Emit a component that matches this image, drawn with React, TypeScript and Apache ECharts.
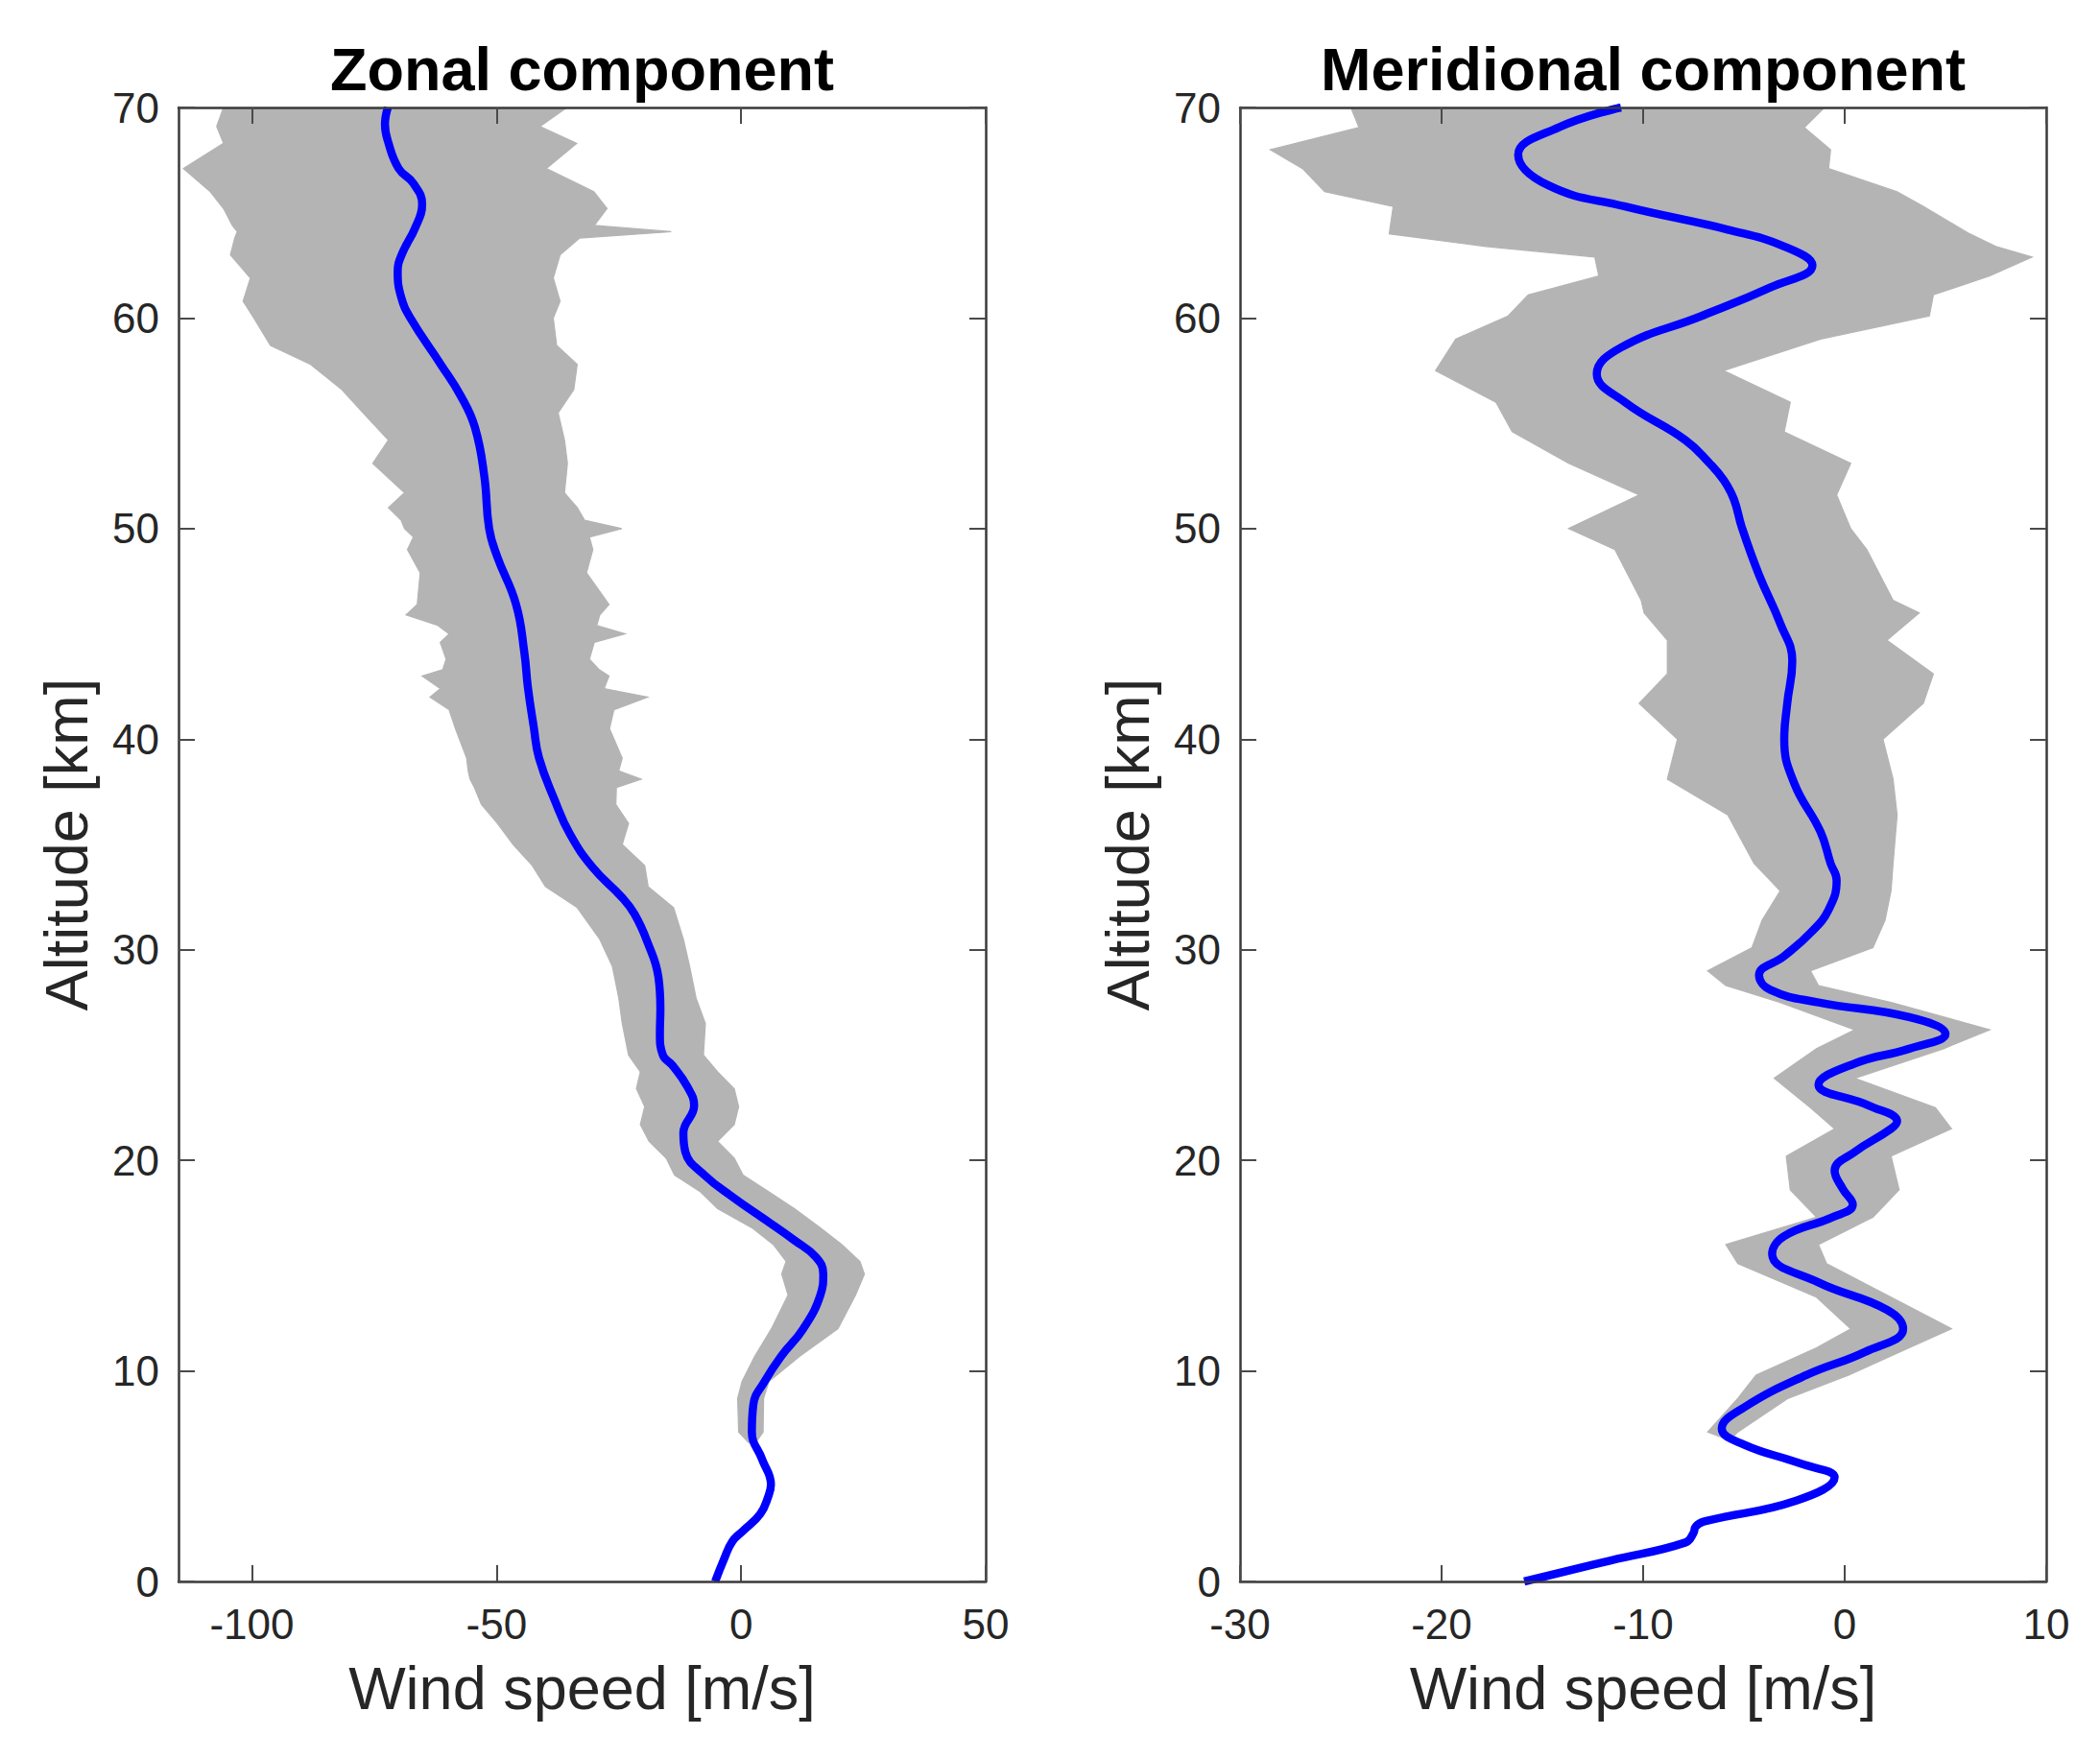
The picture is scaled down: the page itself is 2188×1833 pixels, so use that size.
import React, { useEffect, useRef } from "react";
import * as echarts from "echarts";

// ---------- Data ----------
// Zonal component: mean profile (altitude km -> wind m/s)
const zonalMeanAlt = [0, 1.0, 1.9, 2.4, 3.2, 4.0, 4.6, 5.8, 7.1, 8.4, 9.5, 10.7, 12.0, 13.6, 14.6, 15.4, 16.2, 17.2, 18.2, 19.3, 20.4, 21.3, 22.6, 23.5, 24.5, 25.0, 26.0, 27.2, 28.7, 30.4, 31.7, 32.5, 33.9, 35.5, 37.1, 39.1, 40.6, 42.5, 44.1, 46.4, 48.7, 50.0, 52.5, 54.8, 56.3, 57.8, 60.0, 61.0, 62.2, 63.0, 64.3, 65.4, 66.4, 67.1, 68.4, 69.2, 70.0];
const zonalMean = [-5.3, -3.6, -1.8, 0.4, 3.9, 5.5, 6.1, 4.3, 2.2, 2.5, 4.8, 8.2, 12.7, 16.2, 16.8, 15.3, 10.9, 4.8, -1.4, -7.5, -11.4, -11.8, -9.6, -11.0, -14.0, -16.0, -16.6, -16.5, -16.9, -19.2, -21.8, -24.4, -30.3, -35.0, -38.1, -41.3, -42.4, -43.6, -44.3, -46.0, -49.9, -51.5, -52.5, -54.4, -57.3, -61.4, -67.6, -69.5, -70.2, -69.4, -66.6, -65.2, -67.0, -70.0, -72.2, -72.8, -72.2];

// Zonal component: spread of the ensemble (min / max envelope)
const zonalBandAlt = [6.6, 7.1, 8.7, 9.5, 10.7, 12.0, 13.6, 14.6, 15.2, 16.0, 16.8, 17.7, 18.5, 19.3, 20.1, 20.9, 21.7, 22.55, 23.4, 24.2, 25.0, 26.5, 27.7, 29.2, 30.5, 32.0, 33.0, 34.0, 35.0, 36.0, 36.9, 37.7, 38.1, 38.5, 39.1, 40.5, 41.4, 42.0, 42.4, 43.0, 43.3, 43.8, 44.6, 45.0, 45.4, 45.9, 46.4, 47.9, 49.0, 49.6, 50.0, 50.4, 51.0, 51.7, 53.1, 54.2, 55.5, 56.6, 57.8, 58.7, 60.0, 60.8, 61.9, 63.0, 63.8, 64.1, 64.4, 65.2, 66.0, 67.1, 68.3, 69.1, 70.0];
const zonalBandMin = [1.5, -0.5, -0.7, 0.2, 2.8, 6.2, 9.6, 8.3, 9.2, 6.6, 2.2, -4.8, -8.3, -13.6, -15.3, -18.8, -20.6, -19.7, -21.4, -20.6, -23.0, -24.3, -25.0, -26.3, -28.9, -33.5, -40.0, -42.7, -46.6, -49.8, -53.1, -54.5, -55.4, -55.8, -56.1, -58.4, -59.7, -63.6, -61.5, -65.2, -61.0, -60.3, -61.5, -59.7, -62.0, -68.5, -66.2, -65.6, -68.2, -67.0, -68.8, -69.5, -72.1, -68.8, -75.3, -72.1, -77.3, -81.6, -88.0, -96.2, -99.6, -101.8, -100.3, -104.4, -103.5, -103.0, -104.0, -105.8, -108.5, -114.0, -105.8, -107.2, -105.8];
const zonalBandMax = [3.0, 4.5, 4.6, 5.7, 12.0, 19.8, 23.4, 25.2, 24.3, 20.6, 16.2, 10.9, 5.7, 0.4, -1.4, -4.8, -1.4, -0.5, -1.4, -4.8, -7.7, -7.3, -9.2, -10.5, -11.8, -13.8, -19.0, -19.7, -24.3, -23.0, -25.6, -25.5, -20.4, -25.0, -24.3, -26.9, -26.0, -19.1, -28.0, -27.0, -29.0, -31.0, -30.0, -23.7, -29.5, -28.9, -27.0, -31.6, -30.3, -31.0, -24.4, -32.0, -33.5, -36.1, -35.5, -36.1, -37.4, -34.2, -33.5, -37.7, -38.4, -37.0, -38.4, -37.0, -33.0, -14.3, -30.0, -27.4, -30.1, -39.8, -33.6, -41.1, -35.6];

// Meridional component: mean profile
const meridMeanAlt = [0, 1.0, 1.85, 2.3, 2.6, 2.84, 3.84, 4.94, 5.6, 6.5, 7.26, 8.26, 9.8, 10.9, 12.0, 12.9, 14.2, 15.55, 16.4, 17.3, 17.9, 18.65, 19.5, 20.4, 21.5, 21.85, 22.6, 23.6, 24.6, 25.3, 26.0, 26.8, 27.5, 28.1, 28.8, 29.7, 30.8, 31.9, 33.3, 34.1, 35.6, 37.9, 40.0, 41.7, 43.7, 45.5, 47.8, 50.05, 51.4, 52.3, 53.1, 54.2, 56.0, 57.35, 58.6, 60.1, 61.45, 62.5, 63.4, 64.2, 65.3, 66.3, 67.76, 69.05, 70.0];
const meridMean = [-15.9, -11.6, -7.9, -7.5, -7.4, -7.0, -2.4, -0.5, -2.2, -5.0, -6.1, -5.0, -1.9, 1.0, 2.9, 2.1, -1.3, -3.6, -3.0, -0.6, 0.4, -0.1, -0.5, 0.5, 2.3, 2.6, 1.2, -1.3, 0.5, 3.2, 5.0, 3.2, -1.3, -3.7, -4.25, -3.0, -1.7, -0.8, -0.4, -0.7, -1.2, -2.5, -3.0, -2.85, -2.6, -3.2, -4.25, -5.1, -5.5, -6.0, -6.7, -7.9, -10.9, -12.3, -11.1, -7.1, -3.7, -1.6, -3.0, -5.8, -10.9, -14.7, -16.2, -14.2, -11.1];

// Meridional component: spread of the ensemble
const meridBandAlt = [6.8, 7.1, 8.7, 9.8, 11.1, 12.0, 13.5, 15.1, 16.0, 17.3, 18.6, 20.2, 21.5, 22.5, 23.9, 25.3, 26.2, 27.5, 28.3, 29.0, 30.1, 31.4, 32.8, 34.1, 36.4, 38.1, 40.0, 41.7, 43.1, 44.7, 46.0, 46.6, 49.0, 50.0, 51.6, 53.1, 54.6, 56.0, 57.5, 59.0, 60.1, 61.1, 62.0, 62.9, 63.4, 64.0, 65.3, 66.0, 67.1, 68.0, 69.05, 70.0];
const meridBandMin = [-6.0, -6.8, -5.3, -4.4, -1.4, 0.3, -1.4, -5.3, -5.9, -1.4, -2.7, -2.9, -0.5, -1.7, -3.5, -1.4, 0.5, -3.2, -5.9, -6.8, -4.6, -4.1, -3.2, -4.5, -5.8, -8.8, -8.3, -10.2, -8.8, -8.8, -9.95, -10.1, -11.4, -13.7, -10.2, -13.7, -16.5, -17.3, -20.3, -19.3, -16.7, -15.7, -12.2, -12.4, -17.8, -22.6, -22.4, -25.8, -26.9, -28.5, -24.1, -24.5];
const meridBandMax = [-5.6, -5.3, -2.8, 0.2, 3.2, 5.3, 2.3, -0.9, -1.3, 1.4, 2.7, 2.3, 5.3, 4.5, 0.5, 4.9, 7.2, 2.3, -1.3, -1.7, 1.4, 2.0, 2.3, 2.4, 2.6, 2.4, 1.9, 3.9, 4.4, 2.1, 3.7, 2.4, 1.1, 0.3, -0.4, 0.3, -3.0, -2.7, -6.0, -1.2, 4.2, 4.4, 7.2, 9.3, 7.5, 6.2, 3.9, 2.6, -0.8, -0.7, -2.0, -1.0];

// Axis ticks
const zonalXTicks = [-100, -50, 0, 50];
const meridXTicks = [-30, -20, -10, 0, 10];
const altTicks = [0, 10, 20, 30, 40, 50, 60, 70];

const titles = ["Zonal component", "Meridional component"];
const xName = "Wind speed [m/s]";
const yName = "Altitude [km]";

// ---------- Styles ----------
const FONT = '"Liberation Sans", Arial, Helvetica, sans-serif';
const GRAY = "#b4b4b4";
const BLUE = "#0000ff";
const AXIS = { color: "#3a3a3a", width: 2.5 };
const TICK = { color: "#4a4a4a", width: 2 };
const TXT = "#262626";

function bandSeries(xi: number, yi: number, alt: number[], lo: number[], hi: number[]) {
  return {
    type: "custom",
    xAxisIndex: xi,
    yAxisIndex: yi,
    silent: true,
    clip: true,
    z: 2,
    data: [[lo[0], alt[0]]],
    renderItem: (_params: any, api: any) => {
      const pts: number[][] = [];
      for (let i = 0; i < alt.length; i++) pts.push(api.coord([lo[i], alt[i]]));
      for (let i = alt.length - 1; i >= 0; i--) pts.push(api.coord([hi[i], alt[i]]));
      return {
        type: "polygon",
        shape: { points: pts },
        style: { fill: GRAY, stroke: GRAY, lineWidth: 1.2 },
      };
    },
  };
}

function meanSeries(xi: number, yi: number, alt: number[], v: number[]) {
  return {
    type: "line",
    xAxisIndex: xi,
    yAxisIndex: yi,
    data: alt.map((a, i) => [v[i], a]),
    smooth: 0.45,
    showSymbol: false,
    symbol: "none",
    clip: true,
    z: 3,
    lineStyle: { color: BLUE, width: 8.5 },
    silent: true,
  };
}

function xAxes(grid: number, min: number, max: number, ticks: number[]) {
  return [
    {
      type: "value",
      gridIndex: grid,
      min,
      max,
      position: "bottom",
      z: 10,
      axisLine: { show: true, onZero: false, lineStyle: AXIS },
      axisTick: { show: true, inside: true, length: 17, customValues: ticks, lineStyle: TICK },
      axisLabel: {
        show: true,
        customValues: ticks,
        showMinLabel: true,
        showMaxLabel: true,
        margin: 22,
        fontSize: 44,
        color: TXT,
        fontFamily: FONT,
      },
      splitLine: { show: false },
      name: xName,
      nameLocation: "middle",
      nameGap: 79,
      nameTextStyle: { fontSize: 63, color: TXT, fontFamily: FONT },
    },
    {
      type: "value",
      gridIndex: grid,
      min,
      max,
      position: "top",
      z: 10,
      axisLine: { show: true, onZero: false, lineStyle: AXIS },
      axisTick: { show: true, inside: true, length: 17, customValues: ticks, lineStyle: TICK },
      axisLabel: { show: false },
      splitLine: { show: false },
    },
  ];
}

function yAxes(grid: number) {
  return [
    {
      type: "value",
      gridIndex: grid,
      min: 0,
      max: 70,
      interval: 10,
      position: "left",
      z: 10,
      axisLine: { show: true, onZero: false, lineStyle: AXIS },
      axisTick: { show: true, inside: true, length: 17, customValues: altTicks, lineStyle: TICK },
      axisLabel: {
        show: true,
        customValues: altTicks,
        showMinLabel: true,
        showMaxLabel: true,
        margin: 20,
        fontSize: 44,
        color: TXT,
        fontFamily: FONT,
      },
      splitLine: { show: false },
      name: yName,
      nameLocation: "middle",
      nameGap: 86,
      nameTextStyle: { fontSize: 63, color: TXT, fontFamily: FONT },
    },
    {
      type: "value",
      gridIndex: grid,
      min: 0,
      max: 70,
      interval: 10,
      position: "right",
      z: 10,
      axisLine: { show: true, onZero: false, lineStyle: AXIS },
      axisTick: { show: true, inside: true, length: 17, customValues: altTicks, lineStyle: TICK },
      axisLabel: { show: false },
      splitLine: { show: false },
    },
  ];
}

const GRID_TOP = 112;
const GRID_H = 1536;
const GRID_L = { left: 186, width: 841 };
const GRID_R = { left: 1292, width: 840 };

export default function App() {
  const ref = useRef<HTMLDivElement>(null);

  useEffect(() => {
    if (!ref.current) return;
    const chart = echarts.init(ref.current, null, { renderer: "svg", width: 2188, height: 1833 });
    const titleStyle = (text: string) => ({
      text,
      fill: "#000",
      font: `bold 63px ${FONT}`,
      textAlign: "center",
      textVerticalAlign: "middle",
      align: "center",
      verticalAlign: "middle",
    });
    const option: any = {
      animation: false,
      backgroundColor: "#ffffff",
      grid: [
        { left: GRID_L.left, top: GRID_TOP, width: GRID_L.width, height: GRID_H, containLabel: false },
        { left: GRID_R.left, top: GRID_TOP, width: GRID_R.width, height: GRID_H, containLabel: false },
      ],
      xAxis: [...xAxes(0, -115, 50, zonalXTicks), ...xAxes(1, -30, 10, meridXTicks)],
      yAxis: [...yAxes(0), ...yAxes(1)],
      graphic: [
        { type: "text", x: GRID_L.left + GRID_L.width / 2, y: 72, style: titleStyle(titles[0]) },
        { type: "text", x: GRID_R.left + GRID_R.width / 2, y: 72, style: titleStyle(titles[1]) },
      ],
      series: [
        bandSeries(0, 0, zonalBandAlt, zonalBandMin, zonalBandMax),
        meanSeries(0, 0, zonalMeanAlt, zonalMean),
        bandSeries(2, 2, meridBandAlt, meridBandMin, meridBandMax),
        meanSeries(2, 2, meridMeanAlt, meridMean),
      ],
    };
    chart.setOption(option);
    return () => chart.dispose();
  }, []);

  return (
    <div
      ref={ref}
      style={{ position: "fixed", left: 0, top: 0, width: 2188, height: 1833, background: "#fff" }}
    />
  );
}
